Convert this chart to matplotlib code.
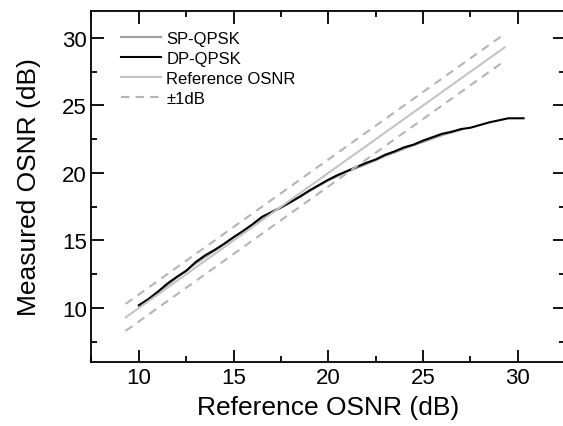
# OSNR medido vs referencia

import numpy as np
import matplotlib
matplotlib.use("Agg")
import matplotlib.pyplot as plt
from matplotlib.ticker import MultipleLocator

plt.rcParams['font.family'] = ['Liberation Sans', 'DejaVu Sans']

# datos
ref_x = [9.3, 29.3]

dp_x = [10.0, 10.5, 11.0, 11.5, 12.0, 12.5, 13.0, 13.5, 14.0, 14.5, 15.0, 15.5,
        16.0, 16.5, 17.0, 17.5, 18.0, 18.5, 19.0, 19.5, 20.0, 20.5, 21.0, 21.5,
        22.0, 22.5, 23.0, 23.5, 24.0, 24.5, 25.0, 25.5, 26.0, 26.5, 27.0, 27.5,
        28.0, 28.5, 29.0, 29.5, 30.3]
dp_y = [10.2, 10.65, 11.2, 11.8, 12.3, 12.75, 13.4, 13.9, 14.3, 14.75, 15.25, 15.7,
        16.2, 16.75, 17.1, 17.45, 17.85, 18.25, 18.7, 19.1, 19.5, 19.85, 20.15, 20.45,
        20.75, 21.0, 21.35, 21.6, 21.9, 22.1, 22.4, 22.65, 22.9, 23.05, 23.25, 23.35,
        23.55, 23.75, 23.9, 24.05, 24.05]

sp_x = [10.0, 11.0, 12.0, 13.0, 14.0, 15.0, 16.0, 17.0, 18.0, 19.0, 20.0, 21.0,
        22.0, 23.0, 24.0, 25.0, 26.0, 27.0]
sp_y = [10.15, 11.15, 12.25, 13.3, 14.25, 15.2, 16.15, 17.05, 17.8, 18.65, 19.45, 20.1,
        20.65, 21.25, 21.8, 22.3, 22.8, 23.2]

fig = plt.figure(figsize=(5.63, 4.27), dpi=100)
ax = fig.add_axes([0.1625, 0.150, 0.8415, 0.822])

ax.plot(sp_x, sp_y, color='#a0a0a0', lw=1.5, label='SP-QPSK')
ax.plot(dp_x, dp_y, color='black', lw=1.5, label='DP-QPSK')
ax.plot(ref_x, ref_x, color='#c4c4c4', lw=1.5, label='Reference OSNR')
ax.plot(ref_x, np.array(ref_x) + 1, color='#b4b4b4', lw=1.5, ls=(0, (4, 3)), label='±1dB')
ax.plot(ref_x, np.array(ref_x) - 1, color='#b4b4b4', lw=1.5, ls=(0, (4, 3)))

ax.set_xlim(7.5, 32.5)
ax.set_ylim(6, 32)
ax.xaxis.set_major_locator(MultipleLocator(5))
ax.xaxis.set_minor_locator(MultipleLocator(2.5))
ax.yaxis.set_major_locator(MultipleLocator(5))
ax.yaxis.set_minor_locator(MultipleLocator(2.5))
ax.tick_params(which='both', direction='in', top=True, right=True, width=1.3, labelsize=16)
ax.tick_params(which='major', length=9)
ax.tick_params(which='minor', length=4.5)
for s in ax.spines.values():
    s.set_linewidth(1.3)

ax.set_xlabel('Reference OSNR (dB)', fontsize=19, labelpad=5)
ax.set_ylabel('Measured OSNR (dB)', fontsize=19, labelpad=15)

ax.legend(loc='upper left', frameon=False, fontsize=12, handlelength=2.4,
          handletextpad=0.3, labelspacing=0.3, borderaxespad=0.4,
          bbox_to_anchor=(0.035, 0.98))

fig.savefig('out.png', dpi=100)
